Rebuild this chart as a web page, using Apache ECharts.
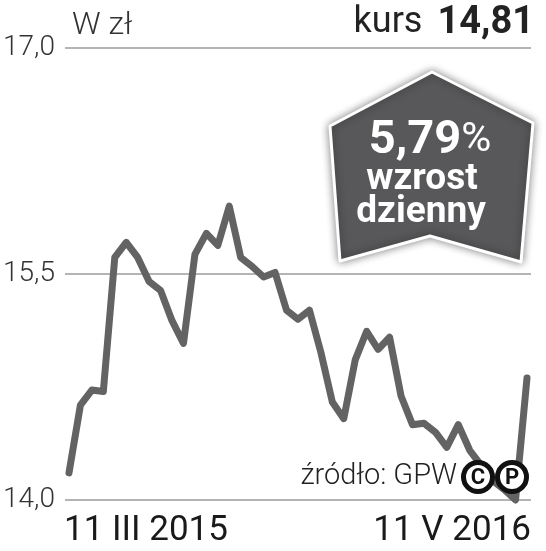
<!DOCTYPE html>
<html>
<head>
<meta charset="utf-8">
<script src="https://cdn.jsdelivr.net/npm/echarts@6/dist/echarts.min.js"></script>
<style>
html,body{margin:0;padding:0;background:#fff;}
#chart{width:546px;height:551px;}
</style>
</head>
<body>
<div id="chart"></div>
<script>
// Closing prices (zł), one per session, from 11 III 2015 to 11 V 2016
var values = [14.18,14.63,14.73,14.72,15.61,15.71,15.61,15.45,15.39,15.19,15.04,15.63,15.77,15.69,15.95,15.61,15.55,15.48,15.51,15.26,15.20,15.26,14.98,14.65,14.54,14.93,15.12,15.00,15.08,14.69,14.50,14.51,14.45,14.35,14.50,14.33,14.23,14.13,14.07,14.00,14.81];
var xLabels = ['11 III 2015', '11 V 2016'];
var yTicks = [14.0, 15.5, 17.0];
var unitLabel = 'W zł';
var lastPrice = '14,81';
var dailyChange = '5,79';
var sourceText = 'źródło: GPW';

var FONT = 'Roboto, "Noto Sans", sans-serif';
var chart = echarts.init(document.getElementById('chart'), null, {renderer: 'canvas'});
var seriesData = values.map(function (v, i) { return [i, v]; });

chart.setOption({
  animation: false,
  backgroundColor: '#ffffff',
  grid: {left: 63, right: 15, top: 48, bottom: 51, containLabel: false},
  xAxis: {
    type: 'value', min: -0.35, max: values.length - 1 + 0.35,
    axisLine: {show: false}, axisTick: {show: false}, axisLabel: {show: false}, splitLine: {show: false}
  },
  yAxis: {
    type: 'value', min: yTicks[0], max: yTicks[2], interval: yTicks[1] - yTicks[0],
    axisLine: {show: false}, axisTick: {show: false},
    axisLabel: {
      margin: 10, color: '#333', fontFamily: FONT, fontSize: 28, fontWeight: 300,
      formatter: function (v) { return v.toFixed(1).replace('.', ','); }
    },
    splitLine: {show: true, lineStyle: {color: '#b4b4b4', width: 2}}
  },
  series: [{
    type: 'line', data: seriesData, showSymbol: false, symbol: 'none', clip: false,
    lineStyle: {color: '#636363', width: 7, cap: 'round', join: 'round'},
    z: 2
  }],
  graphic: [
    {type: 'text', z: 10, style: {x: 72, y: 26, text: unitLabel, fill: '#333', font: '300 32px ' + FONT, align: 'left', textAlign: 'left', verticalAlign: 'middle', textVerticalAlign: 'middle'}},
    {type: 'text', z: 10, style: {
      x: 534, y: 23, text: '{a|kurs}{b|' + lastPrice + '}', align: 'right', textAlign: 'right', verticalAlign: 'middle', textVerticalAlign: 'middle',
      rich: {a: {fontFamily: FONT, fontSize: 36, fill: '#222', color: '#222'}, b: {fontFamily: FONT, fontSize: 38, fontWeight: 'bold', fill: '#222', color: '#222', padding: [0, 0, 0, 15]}}
    }},
    {type: 'polygon', z: 20, shape: {points: [[432,72],[533,123],[521,262],[430,236],[340,261],[330,126]]},
      style: {fill: '#58585a', stroke: '#ffffff', lineWidth: 3, shadowBlur: 8, shadowColor: 'rgba(0,0,0,0.45)', lineJoin: 'round'}},
    {type: 'text', z: 21, style: {
      x: 430, y: 141, text: '{a|' + dailyChange + '}{b|%}', align: 'center', textAlign: 'center', verticalAlign: 'middle', textVerticalAlign: 'middle',
      rich: {a: {fontFamily: FONT, fontSize: 47, fontWeight: 'bold', fill: '#fff', color: '#fff'}, b: {fontFamily: FONT, fontSize: 41, fontWeight: 'normal', fill: '#fff', color: '#fff'}}
    }},
    {type: 'text', z: 21, style: {x: 422, y: 180, text: 'wzrost', fill: '#fff', font: 'bold 37px ' + FONT, align: 'center', textAlign: 'center', verticalAlign: 'middle', textVerticalAlign: 'middle'}},
    {type: 'text', z: 21, style: {x: 421, y: 213, text: 'dzienny', fill: '#fff', font: 'bold 37px ' + FONT, align: 'center', textAlign: 'center', verticalAlign: 'middle', textVerticalAlign: 'middle'}},
    {type: 'text', z: 10, style: {x: 457, y: 477, text: sourceText, fill: '#222', font: '300 29px ' + FONT, align: 'right', textAlign: 'right', verticalAlign: 'middle', textVerticalAlign: 'middle'}},
    {type: 'circle', z: 11, shape: {cx: 478, cy: 477, r: 14.5}, style: {fill: '#fff', stroke: '#111', lineWidth: 5}},
    {type: 'circle', z: 11, shape: {cx: 512, cy: 477, r: 14.5}, style: {fill: '#fff', stroke: '#111', lineWidth: 5}},
    {type: 'text', z: 12, style: {x: 478, y: 478, text: 'C', fill: '#111', font: 'bold 22px ' + FONT, align: 'center', textAlign: 'center', verticalAlign: 'middle', textVerticalAlign: 'middle'}},
    {type: 'text', z: 12, style: {x: 512, y: 478, text: 'P', fill: '#111', font: 'bold 22px ' + FONT, align: 'center', textAlign: 'center', verticalAlign: 'middle', textVerticalAlign: 'middle'}},
    {type: 'text', z: 10, style: {x: 64, y: 531, text: xLabels[0], fill: '#1a1a1a', font: '35px ' + FONT, align: 'left', textAlign: 'left', verticalAlign: 'middle', textVerticalAlign: 'middle'}},
    {type: 'text', z: 10, style: {x: 531, y: 531, text: xLabels[1], fill: '#1a1a1a', font: '35px ' + FONT, align: 'right', textAlign: 'right', verticalAlign: 'middle', textVerticalAlign: 'middle'}}
  ]
});
</script>
</body>
</html>
